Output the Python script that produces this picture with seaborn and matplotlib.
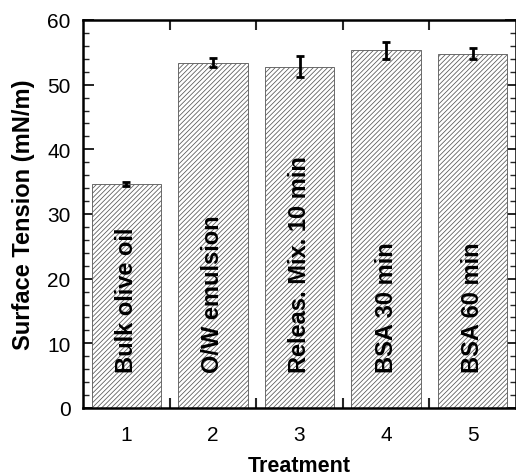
import matplotlib
matplotlib.use("Agg")
import matplotlib.pyplot as plt
import seaborn as sns
import pandas as pd
from matplotlib.ticker import MultipleLocator, FixedLocator

treatments = ["1", "2", "3", "4", "5"]
bar_labels = ["Bulk olive oil", "O/W emulsion", "Releas. Mix. 10 min", "BSA 30 min", "BSA 60 min"]
tension = [34.7, 53.4, 52.8, 55.3, 54.8]
errors = [0.3, 0.7, 1.6, 1.3, 0.8]

df = pd.DataFrame({"Treatment": treatments, "Tension": tension})

sns.set_theme(style="ticks")
plt.rcParams["font.family"] = ["Liberation Sans", "DejaVu Sans"]
plt.rcParams["hatch.linewidth"] = 0.55

fig = plt.figure(figsize=(5.16, 4.77), dpi=100)
ax = fig.add_axes([83 / 516, 1 - 409 / 477, (516 - 83) / 516, (409 - 21) / 477])

sns.barplot(data=df, x="Treatment", y="Tension", order=treatments, ax=ax,
            color="white", edgecolor="#666666", linewidth=0.6, width=0.8,
            errorbar=None)
for p in ax.patches:
    p.set_hatch("///////")
    p.set_facecolor("white")
    p.set_edgecolor("#555555")

xs = list(range(len(treatments)))
ax.errorbar(xs, tension, yerr=errors, fmt="none", ecolor="black",
            elinewidth=2, capsize=3, capthick=2)

for x, lab in zip(xs, bar_labels):
    ax.text(x, 5.6, lab, rotation=90, ha="center", va="bottom",
            fontsize=17, fontweight="bold", color="black")

ax.set_xlim(-0.5, 4.5)
ax.set_ylim(0, 60)
ax.yaxis.set_major_locator(MultipleLocator(10))
ax.yaxis.set_minor_locator(MultipleLocator(2))
ax.xaxis.set_minor_locator(FixedLocator([0.5, 1.5, 2.5, 3.5]))
ax.tick_params(axis="x", which="major", length=0, labelsize=15, pad=12, colors="black")
ax.tick_params(axis="x", which="minor", length=7, width=1.5, direction="in", top=True, bottom=True)
ax.tick_params(axis="y", which="major", length=8, width=1.2, direction="in", left=True, right=True,
               labelsize=15, pad=9, colors="black")
ax.tick_params(axis="y", which="minor", length=4, width=1, direction="in", left=True, right=True)
for s in ax.spines.values():
    s.set_visible(True)
    s.set_linewidth(1.8)
    s.set_color("black")

ax.set_xlabel("Treatment", fontsize=15.5, fontweight="bold", labelpad=8, color="black")
ax.set_ylabel("Surface Tension (mN/m)", fontsize=17, fontweight="bold", labelpad=9, color="black")

fig.savefig("out.png", dpi=100)
